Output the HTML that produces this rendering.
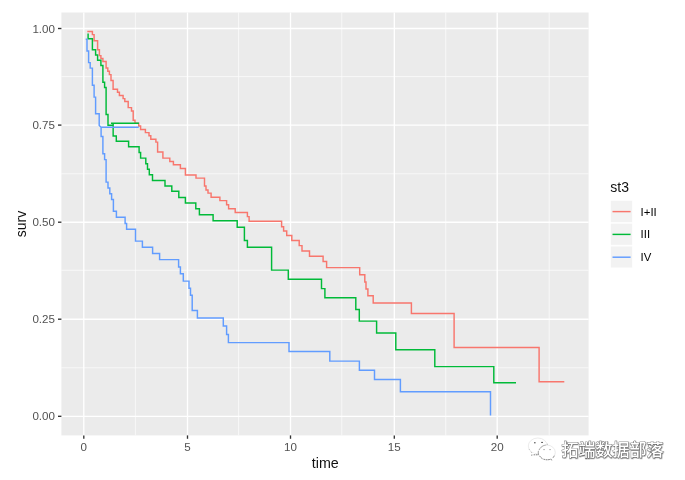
<!DOCTYPE html>
<html><head><meta charset="utf-8"><title>plot</title>
<style>
html,body{margin:0;padding:0;background:#fff;}
body{width:685px;height:480px;overflow:hidden;}
svg{display:block;}
text{font-family:"Liberation Sans","Noto Sans CJK SC",sans-serif;}
.ax{font-size:11.6px;fill:#525252;}
.tt{font-size:14px;fill:#111;}
.lg{font-size:11.4px;fill:#000;}
.wm{font-family:"Noto Sans CJK SC","Liberation Sans",sans-serif;font-size:17px;font-weight:500;fill:#fff;}
</style></head><body>
<svg width="685" height="480" viewBox="0 0 685 480">
<rect width="685" height="480" fill="#fff"/>
<rect x="61.4" y="12.5" width="527.2" height="422.9" fill="#ebebeb"/>
<g stroke="#fff" stroke-width="0.7" opacity="0.9">
<line x1="135.4" x2="135.4" y1="12.5" y2="435.4"/>
<line x1="238.6" x2="238.6" y1="12.5" y2="435.4"/>
<line x1="341.8" x2="341.8" y1="12.5" y2="435.4"/>
<line x1="445.7" x2="445.7" y1="12.5" y2="435.4"/>
<line x1="549.2" x2="549.2" y1="12.5" y2="435.4"/>
<line y1="367.8" y2="367.8" x1="61.4" x2="588.6"/>
<line y1="270.3" y2="270.3" x1="61.4" x2="588.6"/>
<line y1="173.8" y2="173.8" x1="61.4" x2="588.6"/>
<line y1="76.6" y2="76.6" x1="61.4" x2="588.6"/>
</g>
<g stroke="#fff" stroke-width="1.35">
<line x1="83.8" x2="83.8" y1="12.5" y2="435.4"/>
<line x1="187.5" x2="187.5" y1="12.5" y2="435.4"/>
<line x1="290.5" x2="290.5" y1="12.5" y2="435.4"/>
<line x1="394.3" x2="394.3" y1="12.5" y2="435.4"/>
<line x1="497.2" x2="497.2" y1="12.5" y2="435.4"/>
<line y1="416.3" y2="416.3" x1="61.4" x2="588.6"/>
<line y1="319.2" y2="319.2" x1="61.4" x2="588.6"/>
<line y1="222.2" y2="222.2" x1="61.4" x2="588.6"/>
<line y1="125.1" y2="125.1" x1="61.4" x2="588.6"/>
<line y1="28.5" y2="28.5" x1="61.4" x2="588.6"/>
</g>
<g fill="none" stroke-width="1.45" stroke-linejoin="miter" stroke-linecap="butt">
<path stroke="#f8766d" d="M87.3,31.4 H92.4 V34.6 H94.1 V40.8 H97.6 V49.8 H99.4 V55.6 H100.9 V58.5 H102.9 V61.5 H106.1 V67.9 H107.8 V71.3 H109.4 V74.6 H111 V80.5 H113.1 V89.3 H117.5 V92.2 H119.4 V95.5 H123.1 V98.6 H124.8 V101.5 H128.2 V107.6 H131.5 V110.9 H133.2 V120.2 H135 V123.1 H138.7 V126 H140.6 V129.4 H145.4 V132.6 H149 V135.8 H150.8 V139.2 H155.9 V142.1 H157.6 V152 H162.9 V158.1 H169.8 V161.4 H173.4 V164.7 H180.4 V168.4 H185.4 V174.9 H196 V178.1 H204.5 V185.9 H206 V190 H208 V193.1 H211.1 V197.2 H219.9 V200.6 H226.6 V204.7 H228.6 V208.8 H235.2 V212.5 H247.4 V216.6 H249.1 V221.3 H281.6 V226.8 H283.6 V230.9 H286.7 V235.4 H291.8 V240.5 H299.2 V245.6 H302 V250.9 H309.5 V256.3 H323.1 V261.5 H326.6 V267.6 H359.7 V274.7 H364.8 V281.9 H366 V289 H367.9 V295.8 H373.2 V302.9 H411.4 V313.4 H454.1 V347.5 H539.1 V381.8 H564.3"/>
<path stroke="#00ba38" d="M88.1,33.4 V38.7 H92.4 V49.8 H95.6 V55 H97.6 V60.3 H100.9 V65.5 H102.9 V82.3 H104.6 V87.5 H106.1 V114.4 H108 V125.3 H113.15 M111,123.3 H138.9 M113.15,123.3 V136 H116.3 V141.3 H128.6 V146.8 H139.1 V152.4 H140.6 V158.1 H145.8 V163.7 H147.5 V169.2 H149.3 V174.8 H152.5 V180.5 H165 V185.9 H171.8 V191.3 H178.8 V197.5 H185.4 V203 H195.8 V208.8 H199.4 V214.8 H213.1 V220.7 H237.2 V227.2 H244.4 V240.5 H247.4 V247.2 H271.6 V270.1 H288.3 V279.3 H321.5 V288.6 H324.9 V297.8 H355.8 V309.5 H359.3 V321.1 H376.6 V333 H395.8 V349.8 H434.8 V366.6 H493.8 V382.8 H516"/>
<path stroke="#619cff" d="M85.7,39.3 H87 V50.9 H88.6 V62.6 H90.2 V68.1 H92.4 V85.2 H94.1 V97.1 H95.6 V113.8 H99.2 V125.5 L101.1,127.2 H138.7 M101.1,127.2 V136.5 H102.9 V153.8 H104.6 V159.6 H106.1 V182.1 H108 V188 H109.8 V193.8 H111.6 V199.4 H113.4 V211.3 H116.4 V217.2 H125.1 V223.4 H126.6 V229.3 H135.5 V241.1 H142.4 V247.2 H152.6 V253.4 H159.6 V259.6 H178.6 V266.9 H180.4 V273.8 H183.3 V281.1 H189 V288.3 H190.5 V295.3 H192.2 V310.4 H197.4 V318 H223.3 V326 H226.6 V334.5 H228.4 V342.6 H289 V351.5 H329.8 V361.1 H359.4 V370.2 H374.5 V379.4 H400.4 V391.8 H490.5 V415.5"/>
</g>
<g stroke="#333" stroke-width="1.35">
<line x1="83.8" x2="83.8" y1="435.4" y2="438.79999999999995"/>
<line x1="187.5" x2="187.5" y1="435.4" y2="438.79999999999995"/>
<line x1="290.5" x2="290.5" y1="435.4" y2="438.79999999999995"/>
<line x1="394.3" x2="394.3" y1="435.4" y2="438.79999999999995"/>
<line x1="497.2" x2="497.2" y1="435.4" y2="438.79999999999995"/>
<line y1="416.3" y2="416.3" x1="58.0" x2="61.4"/>
<line y1="319.2" y2="319.2" x1="58.0" x2="61.4"/>
<line y1="222.2" y2="222.2" x1="58.0" x2="61.4"/>
<line y1="125.1" y2="125.1" x1="58.0" x2="61.4"/>
<line y1="28.5" y2="28.5" x1="58.0" x2="61.4"/>
</g>
<text class="ax" x="83.8" y="450.7" text-anchor="middle">0</text>
<text class="ax" x="187.5" y="450.7" text-anchor="middle">5</text>
<text class="ax" x="290.5" y="450.7" text-anchor="middle">10</text>
<text class="ax" x="394.3" y="450.7" text-anchor="middle">15</text>
<text class="ax" x="497.2" y="450.7" text-anchor="middle">20</text>
<text class="ax" x="55" y="420.3" text-anchor="end">0.00</text>
<text class="ax" x="55" y="323.2" text-anchor="end">0.25</text>
<text class="ax" x="55" y="226.2" text-anchor="end">0.50</text>
<text class="ax" x="55" y="129.1" text-anchor="end">0.75</text>
<text class="ax" x="55" y="32.5" text-anchor="end">1.00</text>
<text class="tt" x="311.8" y="467.7" textLength="27" lengthAdjust="spacingAndGlyphs">time</text>
<text class="tt" transform="translate(25.8,224) rotate(-90)" text-anchor="middle">surv</text>
<text class="tt" x="610.3" y="192">st3</text>
<rect x="610.6" y="200.5" width="21.8" height="21.8" fill="#f2f2f2" stroke="#fff" stroke-width="0.6"/>
<line x1="612.5" x2="630.6" y1="211.6" y2="211.6" stroke="#f8766d" stroke-width="1.45"/>
<text class="lg" x="640.6" y="215.6">I+II</text>
<rect x="610.6" y="223.3" width="21.8" height="21.8" fill="#f2f2f2" stroke="#fff" stroke-width="0.6"/>
<line x1="612.5" x2="630.6" y1="234.4" y2="234.4" stroke="#00ba38" stroke-width="1.45"/>
<text class="lg" x="640.6" y="238.4">III</text>
<rect x="610.6" y="246.1" width="21.8" height="21.8" fill="#f2f2f2" stroke="#fff" stroke-width="0.6"/>
<line x1="612.5" x2="630.6" y1="257.2" y2="257.2" stroke="#619cff" stroke-width="1.45"/>
<text class="lg" x="640.6" y="261.2">IV</text>
<g fill="#fff" stroke="#e2e2e2" stroke-width="0.7">
<ellipse cx="537.8" cy="446" rx="9.5" ry="8"/>
<path d="M532.6,452.6 L531.2,455.3 L535.6,453.9 Z" stroke="none"/>
<ellipse cx="546.8" cy="452.5" rx="8.5" ry="7.5"/>
<path d="M550.4,459 L552.9,460.5 L552.4,457.8 Z" stroke="none"/>
</g>
<g fill="none" stroke="#555" stroke-width="0.75" stroke-dasharray="1.6 0.7">
<path d="M529.2,449.3 L529.5,449.8 M530.8,451.9 L531.6,452.6" stroke="#888"/>
<path d="M531.2,455.2 L532.4,455 M533.6,454.8 H538.3 V451.4"/>
<path d="M539.3,449.8 A8.5,7.5 0 0 1 544,445.5 L545.6,445.1 M546.8,444.6 L547.6,444.2" stroke="#777"/>
<path d="M539.7,455.9 A8.5,7.5 0 0 0 542.4,458.6 M543.6,459.2 Q547,460.2 550.6,459.3 L552.7,460.4 M553.2,457.6 A8.5,7.5 0 0 0 554.4,455.3"/>
</g>
<g fill="#555"><rect x="534" y="442" width="1.6" height="1.4" fill="#777"/><rect x="541.2" y="441.9" width="1.7" height="1.1"/><rect x="543.4" y="449.1" width="1.3" height="1" fill="#999"/><rect x="549.4" y="449.1" width="1.3" height="1" fill="#999"/></g>
<text class="wm" x="561.6" y="455.9" filter="url(#sh)" stroke="#555" stroke-width="0.7" paint-order="stroke fill">拓端数据部落</text>
<defs><filter id="sh" x="-5%" y="-20%" width="110%" height="140%"><feDropShadow dx="0.4" dy="0.6" stdDeviation="0.3" flood-color="#333" flood-opacity="0.7"/></filter></defs>
</svg></body></html>
